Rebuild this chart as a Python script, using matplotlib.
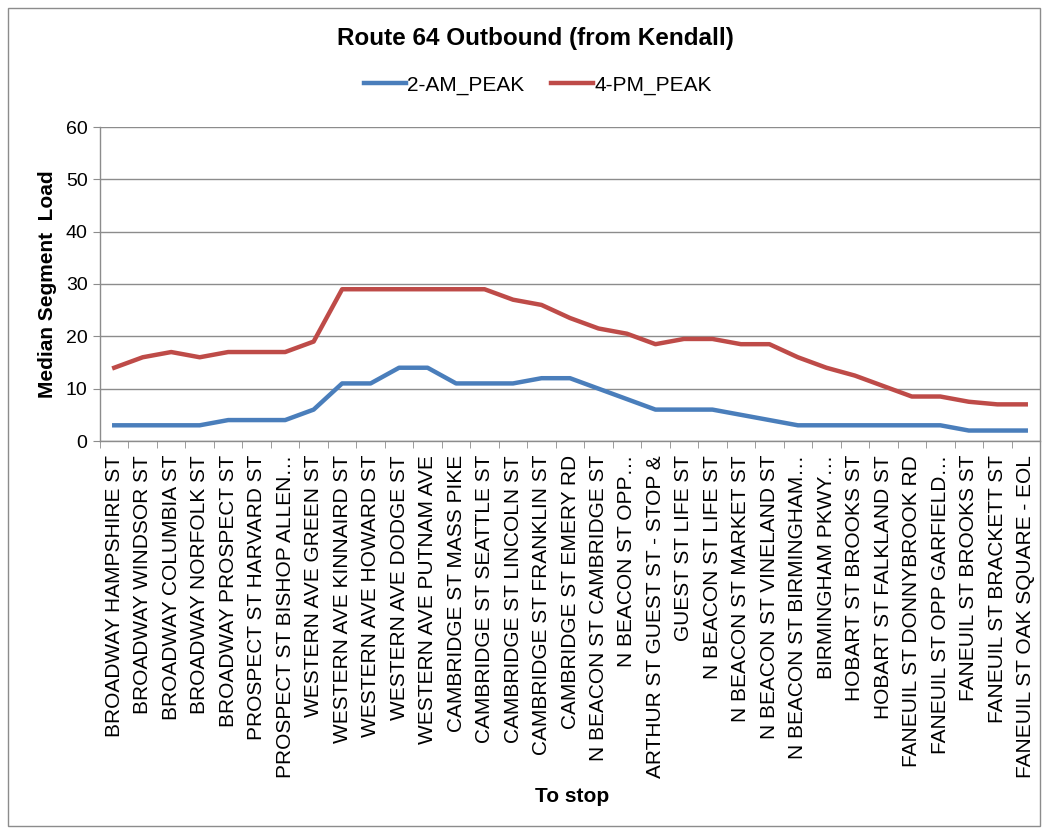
import matplotlib
matplotlib.use("Agg")
import matplotlib.pyplot as plt
from matplotlib.patches import Rectangle
import numpy as np

plt.rcParams['font.family'] = ['Liberation Sans', 'DejaVu Sans']

stops = [
    "BROADWAY HAMPSHIRE ST", "BROADWAY WINDSOR ST", "BROADWAY COLUMBIA ST",
    "BROADWAY NORFOLK ST", "BROADWAY PROSPECT ST", "PROSPECT ST HARVARD ST",
    "PROSPECT ST BISHOP ALLEN…", "WESTERN AVE GREEN ST", "WESTERN AVE KINNAIRD ST",
    "WESTERN AVE HOWARD ST", "WESTERN AVE DODGE ST", "WESTERN AVE PUTNAM AVE",
    "CAMBRIDGE ST MASS PIKE", "CAMBRIDGE ST SEATTLE ST", "CAMBRIDGE ST LINCOLN ST",
    "CAMBRIDGE ST FRANKLIN ST", "CAMBRIDGE ST EMERY RD", "N BEACON ST CAMBRIDGE ST",
    "N BEACON ST OPP…", "ARTHUR ST GUEST ST - STOP &", "GUEST ST LIFE ST",
    "N BEACON ST LIFE ST", "N BEACON ST MARKET ST", "N BEACON ST VINELAND ST",
    "N BEACON ST BIRMINGHAM…", "BIRMINGHAM PKWY…", "HOBART ST BROOKS ST",
    "HOBART ST FALKLAND ST", "FANEUIL ST DONNYBROOK RD", "FANEUIL ST OPP GARFIELD…",
    "FANEUIL ST BROOKS ST", "FANEUIL ST BRACKETT ST", "FANEUIL ST OAK SQUARE - EOL",
]
am_peak = [3, 3, 3, 3, 4, 4, 4, 6, 11, 11, 14, 14, 11, 11, 11, 12, 12, 10, 8, 6,
           6, 6, 5, 4, 3, 3, 3, 3, 3, 3, 2, 2, 2]
pm_peak = [14, 16, 17, 16, 17, 17, 17, 19, 29, 29, 29, 29, 29, 29, 27, 26, 23.5,
           21.5, 20.5, 18.5, 19.5, 19.5, 18.5, 18.5, 16, 14, 12.5, 10.5, 8.5, 8.5,
           7.5, 7, 7]
y_ticks = [0, 10, 20, 30, 40, 50, 60]

W, H = 1049, 831
fig = plt.figure(figsize=(W / 100, H / 100), dpi=100)
fig.patches.append(Rectangle((8 / W, 1 - 826 / H), (1040 - 8) / W, (826 - 8) / H,
                             transform=fig.transFigure, fill=False,
                             edgecolor='#8c8c8c', linewidth=1))

ax = fig.add_axes([100 / W, 1 - 441 / H, (1040 - 100) / W, (441 - 127) / H])
x = np.arange(len(stops))
ax.plot(x, am_peak, color='#4A7EBB', linewidth=3.2, label='2-AM_PEAK', solid_joinstyle='round')
ax.plot(x, pm_peak, color='#BE4B48', linewidth=3.2, label='4-PM_PEAK', solid_joinstyle='round')

ax.set_xlim(-0.5, len(stops) - 0.5)
ax.set_ylim(0, 60)
ax.set_yticks(y_ticks)
ax.set_yticklabels([str(v) for v in y_ticks], fontsize=14)
ax.yaxis.grid(True, color='#8c8c8c', linewidth=1)
ax.set_axisbelow(True)

ax.set_xticks(x)
ax.set_xticklabels(stops, rotation=90, fontsize=15, va='top', ha='center')
ax.set_xticks(np.arange(len(stops) + 1) - 0.5, minor=True)
ax.tick_params(axis='x', which='major', length=0, pad=10)
ax.tick_params(axis='x', which='minor', length=5, color='#8c8c8c', direction='out')
ax.tick_params(axis='y', length=5, color='#8c8c8c', direction='out', pad=4)

for s in ['top', 'right']:
    ax.spines[s].set_visible(False)
for s in ['left', 'bottom']:
    ax.spines[s].set_color('#8c8c8c')
    ax.spines[s].set_linewidth(1)

ax.set_ylabel('Median Segment  Load', fontsize=15, fontweight='bold', labelpad=6)
fig.text(572 / W, 1 - 797 / H, 'To stop', fontsize=15, fontweight='bold',
         ha='center', va='center')
fig.text(535 / W, 1 - 39 / H, 'Route 64 Outbound (from Kendall)', fontsize=17.5,
         fontweight='bold', ha='center', va='center')

fig.legend(loc='center', bbox_to_anchor=(538 / W, 1 - 85 / H), ncol=2, frameon=False,
           fontsize=15, handlelength=2.0, columnspacing=1.3, handletextpad=0.05)

fig.savefig('out.png', dpi=100, facecolor='white')
